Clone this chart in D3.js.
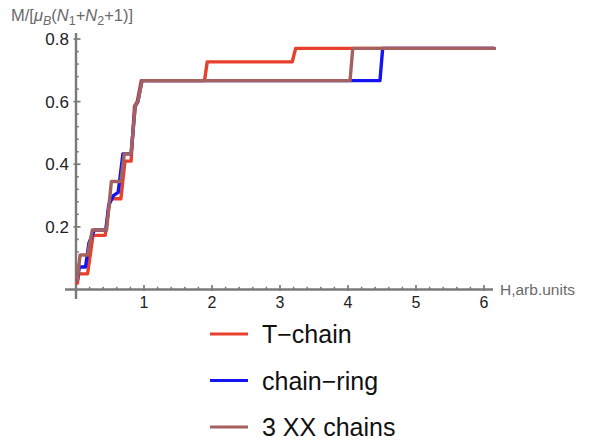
<!DOCTYPE html>
<html>
<head>
<meta charset="utf-8">
<script src="https://cdn.jsdelivr.net/npm/d3@7"></script>
<style>
  html, body { margin: 0; padding: 0; background: #fff; }
  svg { display: block; font-family: "Liberation Sans", Arial, sans-serif; }
</style>
</head>
<body>
<svg id="chart" width="594" height="443"></svg>
<script>
// Magnetization curves M(H) for three spin systems
const seriesNames = ["T\u2212chain", "chain\u2212ring", "3 XX chains"];
const seriesColors = ["#e8402c", "#1414f0", "#a5615e"];

const tChainH = [0.02, 0.04, 0.17, 0.25, 0.43, 0.50, 0.66, 0.72, 0.81, 0.86, 0.90, 0.96, 1.89, 1.93, 3.18, 3.23, 6.15];
const tChainM = [0.02, 0.05, 0.05, 0.173, 0.173, 0.29, 0.29, 0.41, 0.41, 0.585, 0.60, 0.667, 0.667, 0.727, 0.727, 0.77, 0.77];

const chainRingH = [0.02, 0.05, 0.14, 0.19, 0.23, 0.27, 0.44, 0.48, 0.55, 0.62, 0.69, 0.81, 0.87, 0.91, 0.97, 4.47, 4.51, 6.15];
const chainRingM = [0.03, 0.072, 0.072, 0.148, 0.17, 0.19, 0.19, 0.268, 0.30, 0.31, 0.433, 0.433, 0.585, 0.60, 0.667, 0.667, 0.77, 0.77];

const xxChainsH = [0.02, 0.06, 0.17, 0.24, 0.45, 0.52, 0.66, 0.71, 0.81, 0.87, 0.91, 0.97, 4.03, 4.07, 6.15];
const xxChainsM = [0.03, 0.11, 0.11, 0.19, 0.19, 0.345, 0.345, 0.433, 0.433, 0.585, 0.60, 0.667, 0.667, 0.77, 0.77];

const xTicks = [1, 2, 3, 4, 5, 6];
const yTicks = [0.2, 0.4, 0.6, 0.8];

const series = [
  { name: seriesNames[0], color: seriesColors[0], h: tChainH, m: tChainM },
  { name: seriesNames[1], color: seriesColors[1], h: chainRingH, m: chainRingM },
  { name: seriesNames[2], color: seriesColors[2], h: xxChainsH, m: xxChainsM }
];

const svg = d3.select("#chart");
const x = d3.scaleLinear().domain([0, 6]).range([76, 484]);
const y = d3.scaleLinear().domain([0, 0.8]).range([289.5, 39]);

const axisColor = "#7a7a7a";
const g = svg.append("g");

// axes lines
g.append("line").attr("x1", 65).attr("x2", 493).attr("y1", y(0)).attr("y2", y(0))
  .attr("stroke", axisColor).attr("stroke-width", 2.4);
g.append("line").attr("x1", x(0)).attr("x2", x(0)).attr("y1", 33).attr("y2", 299)
  .attr("stroke", axisColor).attr("stroke-width", 2.4);

// minor ticks
const xMinor = d3.range(1, 31).map(i => i * 0.2).filter(v => Math.abs(v - Math.round(v)) > 1e-6);
g.selectAll(".xminor").data(xMinor).enter().append("line")
  .attr("x1", d => x(d)).attr("x2", d => x(d))
  .attr("y1", y(0)).attr("y2", y(0) - 2.8)
  .attr("stroke", axisColor).attr("stroke-width", 1.5);
const yMinor = d3.range(1, 21).map(i => i * 0.04).filter(v => Math.abs(v / 0.2 - Math.round(v / 0.2)) > 1e-6);
g.selectAll(".yminor").data(yMinor).enter().append("line")
  .attr("x1", x(0)).attr("x2", x(0) + 2.8)
  .attr("y1", d => y(d)).attr("y2", d => y(d))
  .attr("stroke", axisColor).attr("stroke-width", 1.5);

// major ticks
g.selectAll(".xmajor").data(xTicks).enter().append("line")
  .attr("x1", d => x(d)).attr("x2", d => x(d))
  .attr("y1", y(0) + 1.5).attr("y2", y(0) - 4.5)
  .attr("stroke", axisColor).attr("stroke-width", 1.7);
g.selectAll(".ymajor").data(yTicks).enter().append("line")
  .attr("x1", x(0) - 2.5).attr("x2", x(0) + 4.5)
  .attr("y1", d => y(d)).attr("y2", d => y(d))
  .attr("stroke", axisColor).attr("stroke-width", 1.7);

// tick labels
g.selectAll(".xlab").data(xTicks).enter().append("text")
  .attr("x", d => x(d)).attr("y", 308)
  .attr("text-anchor", "middle").attr("font-size", 16).attr("fill", "#222")
  .text(d => d);
g.selectAll(".ylab").data(yTicks).enter().append("text")
  .attr("x", 69).attr("y", d => y(d) + 6)
  .attr("text-anchor", "end").attr("font-size", 17).attr("fill", "#222")
  .text(d => d3.format(".1f")(d));

// axis labels
const yl = g.append("text").attr("x", 11).attr("y", 21).attr("font-size", 16.5).attr("fill", "#6a6a6a");
yl.append("tspan").text("M/[");
yl.append("tspan").attr("font-style", "italic").text("\u03bc");
yl.append("tspan").attr("font-style", "italic").attr("font-size", 12.5).attr("dy", 3.5).text("B");
yl.append("tspan").attr("dy", -3.5).text("(");
yl.append("tspan").attr("font-style", "italic").text("N");
yl.append("tspan").attr("font-size", 12.5).attr("dy", 3.5).text("1");
yl.append("tspan").attr("dy", -3.5).text("+");
yl.append("tspan").attr("font-style", "italic").text("N");
yl.append("tspan").attr("font-size", 12.5).attr("dy", 3.5).text("2");
yl.append("tspan").attr("dy", -3.5).text("+1)]");

g.append("text").attr("x", 500).attr("y", 295).attr("font-size", 15.5).attr("fill", "#6a6a6a")
  .text("H,arb.units");

// curves
const line = d3.line().x(d => x(d[0])).y(d => y(d[1]));
series.forEach(s => {
  const pts = s.h.map((h, i) => [h, s.m[i]]);
  g.append("path").datum(pts)
    .attr("d", line)
    .attr("fill", "none")
    .attr("stroke", s.color)
    .attr("stroke-width", 3.4)
    .attr("stroke-linejoin", "round")
    .attr("stroke-linecap", "round");
});

// legend
const legend = g.append("g");
series.forEach((s, i) => {
  const ly = 334 + i * 46.5;
  legend.append("line").attr("x1", 210).attr("x2", 248).attr("y1", ly).attr("y2", ly)
    .attr("stroke", s.color).attr("stroke-width", 3.2);
  legend.append("text").attr("x", 262).attr("y", ly + 9).attr("font-size", 25).attr("fill", "#111")
    .text(s.name);
});
</script>
</body>
</html>
